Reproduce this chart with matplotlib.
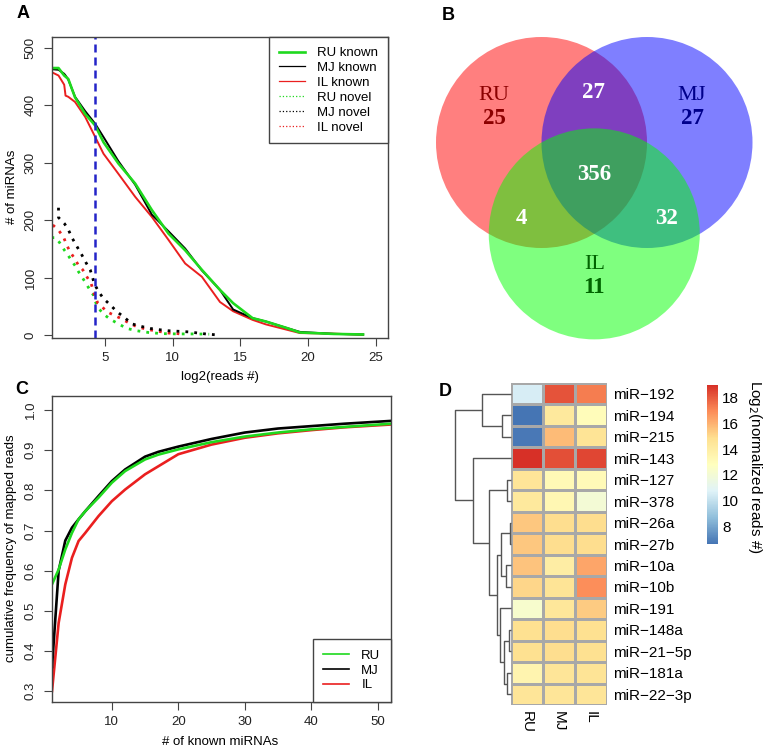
import numpy as np
import matplotlib
matplotlib.use('Agg')
import matplotlib.pyplot as plt
from matplotlib.patches import Circle
from matplotlib.lines import Line2D
from matplotlib.colors import LinearSegmentedColormap
from matplotlib.cm import ScalarMappable
from matplotlib.colors import Normalize

plt.rcParams['font.family'] = ['Liberation Sans', 'DejaVu Sans']

W, H = 766, 752

# ---------------- panel A: miRNAs vs log2(reads) ----------------
known_x = [1.06, 1.58, 2.0, 2.1, 2.3, 2.8, 3.55, 4.29, 4.9, 6.0, 7.24, 8.47, 9.7,
           10.93, 12.16, 13.5, 14.47, 15.9, 16.9, 18.4, 19.4, 21.9, 24.06]
ru_known = [465, 465, 452, 450, 446, 414, 385, 365, 336, 299, 264, 218, 177,
            148, 114, 79, 56, 30, 24, 13, 5, 2.5, 1.5]
mj_known = [463, 462, 455, 452, 445, 415, 390, 368, 345, 303, 262, 210, 181,
            151, 113, 79, 45, 30, 24, 13, 6, 2.5, 1.5]
il_known = [458, 452, 436, 417, 415, 406, 380, 345, 316, 281, 241, 206, 166,
            125, 102, 58, 42, 27, 19, 10, 4, 3, 1]

ru_novel_x = [1.06, 1.38, 1.70, 2.02, 2.27, 2.51, 2.81, 3.05, 3.35, 3.62, 3.87, 4.16,
              4.29, 4.54, 4.9, 5.4, 6.0, 6.63, 7.36, 8.22, 9.2, 10.4, 11.7, 12.7]
ru_novel = [170, 170, 160, 148, 140, 131, 121, 111, 100, 90, 80, 70,
            59, 47, 37, 28, 20, 12, 8, 5, 3, 2.5, 2.5, 2]
mj_novel_x = [1.58, 1.58, 2.03, 2.32, 2.62, 2.93, 3.3, 3.62, 3.92, 4.24, 4.54, 4.9,
              5.4, 5.9, 6.4, 7.0, 7.6, 8.35, 8.96, 9.7, 10.5, 11.2, 11.9, 12.6, 13.2]
mj_novel = [222, 205, 194, 183, 168, 155, 140, 126, 114, 89, 76, 64,
            53, 41, 32, 20, 16, 12, 10, 8, 7, 6, 4, 2, 1]
il_novel_x = [1.16, 1.58, 1.95, 2.19, 2.44, 2.76, 3.05, 3.37, 3.67, 3.99, 4.24, 4.48,
              4.78, 5.15, 6.13, 6.75, 7.36, 8.22, 8.96, 9.7, 10.4, 10.8]
il_novel = [192, 183, 171, 157, 145, 134, 122, 114, 102, 90, 70, 56,
            50, 41, 30, 22, 15, 10, 7, 4, 3, 1]
cutoff = 4.3

# ---------------- panel B: Venn counts ----------------
venn_sets = ['RU', 'MJ', 'IL']
only_counts = [25, 27, 11]
ru_mj, ru_il, mj_il, all_three = 27, 4, 32, 356

# ---------------- panel C: cumulative frequency ----------------
top_n = [1, 2, 3, 4, 5, 6, 7, 8, 10, 12, 15, 17, 20, 25, 30, 35, 40, 45, 52]
ru_cum = [0.566, 0.603, 0.653, 0.694, 0.728, 0.748, 0.765, 0.782, 0.819, 0.848,
          0.877, 0.889, 0.902, 0.920, 0.934, 0.944, 0.952, 0.958, 0.966]
mj_cum = [0.36, 0.600, 0.675, 0.707, 0.728, 0.748, 0.767, 0.786, 0.823, 0.852,
          0.884, 0.896, 0.909, 0.928, 0.944, 0.954, 0.960, 0.966, 0.973]
il_cum = [0.30, 0.47, 0.566, 0.632, 0.674, 0.694, 0.715, 0.736, 0.773, 0.802,
          0.840, 0.860, 0.890, 0.914, 0.931, 0.942, 0.950, 0.957, 0.964]

# ---------------- panel D: heatmap ----------------
mirnas = ['miR-192', 'miR-194', 'miR-215', 'miR-143', 'miR-127', 'miR-378',
          'miR-26a', 'miR-27b', 'miR-10a', 'miR-10b', 'miR-191', 'miR-148a',
          'miR-21-5p', 'miR-181a', 'miR-22-3p']
samples = ['RU', 'MJ', 'IL']
ru_expr = [10.5, 6.6, 6.7, 19.0, 14.5, 14.3, 15.5, 15.5, 15.6, 15.1, 12.3, 14.8, 14.8, 13.5, 14.5]
mj_expr = [18.2, 14.3, 15.8, 18.3, 13.2, 13.3, 14.9, 14.9, 14.0, 14.6, 14.4, 14.9, 14.9, 14.5, 14.5]
il_expr = [17.3, 13.0, 14.6, 18.5, 13.1, 12.0, 14.9, 14.9, 16.3, 16.9, 15.4, 14.8, 14.8, 14.6, 14.5]
# row dendrogram: (child a, child b, height); leaves are 0..14 in display order
row_merges = [(6, 7, 1.0), (11, 12, 2.0), (13, 14, 4.0), (4, 5, 4.3), (8, 9, 5.3),
              (16, 17, 6.7), (1, 2, 8.7), (15, 19, 10.3), (10, 20, 10.8),
              (22, 23, 14.3), (18, 24, 22.0), (0, 21, 29.3), (3, 25, 38.3),
              (26, 27, 56.0)]

GREEN, RED, BLUE = '#1ED91E', '#EA1F1F', '#2424C8'
FRAME = '#444444'


def px_axes(fig, x0, y0, x1, y1):
    return fig.add_axes([x0 / W, 1 - y1 / H, (x1 - x0) / W, (y1 - y0) / H])


def r_style(ax):
    for s in ax.spines.values():
        s.set_color(FRAME)
        s.set_linewidth(1)
    ax.tick_params(direction='out', length=6, width=0.8, color=FRAME,
                   labelsize=9.5, labelcolor='#222222')
    ax.tick_params(axis='x', pad=4)
    ax.tick_params(axis='y', pad=5, labelrotation=90)
    plt.setp(ax.get_yticklabels(), va='center')


def ftext(x, y, s, **kw):
    fig.text(x / W, 1 - y / H, s, **kw)


fig = plt.figure(figsize=(W / 100, H / 100), dpi=100)

# ---- A
ax = px_axes(fig, 52, 37, 388, 338)
dots = (0, (1, 2.2))
ax.plot(ru_novel_x, ru_novel, color=GREEN, lw=2, ls=dots)
ax.plot(il_novel_x, il_novel, color=RED, lw=2, ls=dots)
ax.plot(mj_novel_x, mj_novel, color='black', lw=2, ls=dots)
ax.plot(known_x, il_known, color=RED, lw=1.4)
ax.plot(known_x, mj_known, color='black', lw=1.4)
ax.plot(known_x, ru_known, color=GREEN, lw=1.9)
ax.axvline(cutoff, color=BLUE, lw=1.8, ls=(0, (3.2, 2)))
ax.set_xlim(1.1, 25.9)
ax.set_ylim(-4.6, 519)
ax.set_xticks([5, 10, 15, 20, 25])
ax.set_yticks([0, 100, 200, 300, 400, 500])
r_style(ax)
handles = [Line2D([], [], color=GREEN, lw=1.9), Line2D([], [], color='black', lw=0.9),
           Line2D([], [], color=RED, lw=0.9),
           Line2D([], [], color=GREEN, lw=0.9, ls=':'), Line2D([], [], color='black', lw=0.9, ls=':'),
           Line2D([], [], color=RED, lw=0.9, ls=':')]
labels = ['RU known', 'MJ known', 'IL known', 'RU novel', 'MJ novel', 'IL novel']
leg = ax.legend(handles, labels, loc='upper right', borderaxespad=0, fancybox=False,
                edgecolor=FRAME, framealpha=1, fontsize=9.5, handlelength=2.0,
                handletextpad=0.9, labelspacing=0.2, borderpad=0.75)
leg.get_frame().set_linewidth(1)
ftext(12, 187, '# of miRNAs', rotation=90, ha='center', va='center', fontsize=9.5)
ftext(220, 377, 'log2(reads #)', ha='center', va='center', fontsize=9.5)

# ---- B
vax = px_axes(fig, 420, 0, 766, 360)
vax.set_xlim(420, 766)
vax.set_ylim(360, 0)
vax.axis('off')
r = 105.5
c_ru = np.array([541.5, 142.5])
c_mj = c_ru + [r, 0]
c_il = c_ru + [r / 2, r * np.sqrt(3) / 2]
for c, col in zip([c_ru, c_mj, c_il], ['#FF0000', '#0000FF', '#00FF00']):
    vax.add_patch(Circle(c, r, facecolor=col, alpha=0.5, lw=0))
serif = ['Liberation Serif', 'DejaVu Serif']
dark = ['#8B0000', '#00008B', '#006400']
name_pos = [c_ru + [-47.5, -47.5], c_mj + [45, -47.5], c_il + [0, 31]]
for name, n, p, col in zip(venn_sets, only_counts, name_pos, dark):
    vax.text(p[0], p[1], name, color=col, family=serif, fontsize=16, ha='center', va='center')
    vax.text(p[0], p[1] + 23, str(n), color=col, family=serif, fontsize=16.5,
             weight='bold', ha='center', va='center')
for cnt, p in [(ru_mj, (593.5, 92)), (all_three, (594, 175)), (ru_il, (521, 218)),
               (mj_il, (667, 218))]:
    vax.text(p[0], p[1], str(cnt), color='white', family=serif, fontsize=16.5,
             weight='bold', ha='center', va='center')

# ---- C
cx = px_axes(fig, 52, 396, 391, 702)
cx.plot(top_n, il_cum, color=RED, lw=1.9)
cx.plot(top_n, mj_cum, color='black', lw=1.9)
cx.plot(top_n, ru_cum, color=GREEN, lw=1.9)
cx.set_xlim(1, 52)
cx.set_ylim(0.273, 1.035)
cx.set_xticks([10, 20, 30, 40, 50])
cx.set_yticks(np.round(np.arange(0.3, 1.01, 0.1), 1))
r_style(cx)
leg2 = cx.legend([Line2D([], [], color=GREEN, lw=1.2), Line2D([], [], color='black', lw=1.2),
                  Line2D([], [], color=RED, lw=1.2)], samples, loc='lower right',
                 borderaxespad=0, fancybox=False, edgecolor=FRAME, framealpha=1,
                 fontsize=9.5, handlelength=2.0, handletextpad=0.9, labelspacing=0.2,
                 borderpad=0.8)
leg2.get_frame().set_linewidth(1)
ftext(11, 548, 'cumulative frequency of mapped reads', rotation=90, ha='center',
      va='center', fontsize=9.5)
ftext(220, 742, '# of known miRNAs', ha='center', va='center', fontsize=9.5)

# ---- D
vals = np.column_stack([ru_expr, mj_expr, il_expr])
cmap = LinearSegmentedColormap.from_list(
    'rdylbu', ['#4575B4', '#91BFDB', '#E0F3F8', '#FFFFBF', '#FEE090', '#FC8D59', '#D73027'])
vmin, vmax = vals.min(), vals.max()
hx = px_axes(fig, 511, 383, 607, 705)
hx.pcolormesh(np.arange(4), np.arange(16), vals, cmap=cmap, vmin=vmin, vmax=vmax,
              edgecolors='#A8A8A8', linewidth=0.9)
hx.set_xlim(0, 3)
hx.set_ylim(15, 0)
for s in hx.spines.values():
    s.set_visible(False)
hx.yaxis.tick_right()
hx.set_yticks(np.arange(15) + 0.5)
hx.set_yticklabels([m.replace('-', '\u2212') for m in mirnas], fontsize=11)
hx.set_xticks(np.arange(3) + 0.5)
hx.set_xticklabels(samples, fontsize=11, rotation=270)
hx.tick_params(length=0, pad=4)
plt.setp(hx.get_xticklabels(), va='top', ha='center')

dx = px_axes(fig, 455, 383, 511, 705)
dx.set_ylim(15, 0)
dx.set_xlim(row_merges[-1][2], 0)
dx.axis('off')
n_leaf = len(mirnas)
pos = {i: i + 0.5 for i in range(n_leaf)}
hgt = {i: 0.0 for i in range(n_leaf)}
for k, (a, b, h) in enumerate(row_merges):
    dx.plot([hgt[a], h, h, hgt[b]], [pos[a], pos[a], pos[b], pos[b]],
            color='#555555', lw=1, clip_on=False, solid_capstyle='butt')
    pos[n_leaf + k] = (pos[a] + pos[b]) / 2
    hgt[n_leaf + k] = h

cb_ax = px_axes(fig, 707, 385, 718, 544)
sm = ScalarMappable(norm=Normalize(vmin, vmax), cmap=cmap)
cb = fig.colorbar(sm, cax=cb_ax, ticks=[8, 10, 12, 14, 16, 18])
cb.outline.set_visible(False)
cb_ax.tick_params(length=0, labelsize=11, pad=3)
ftext(755, 467, 'Log$_2$(normalized reads #)', rotation=270, ha='center', va='center',
      fontsize=11)

# panel letters
for letter, (x, y) in zip('ABCD', [(23, 14), (448, 15), (22, 390), (445, 392)]):
    ftext(x, y, letter, fontsize=13, weight='bold', ha='center', va='center')

fig.savefig('out.png', dpi=100)
